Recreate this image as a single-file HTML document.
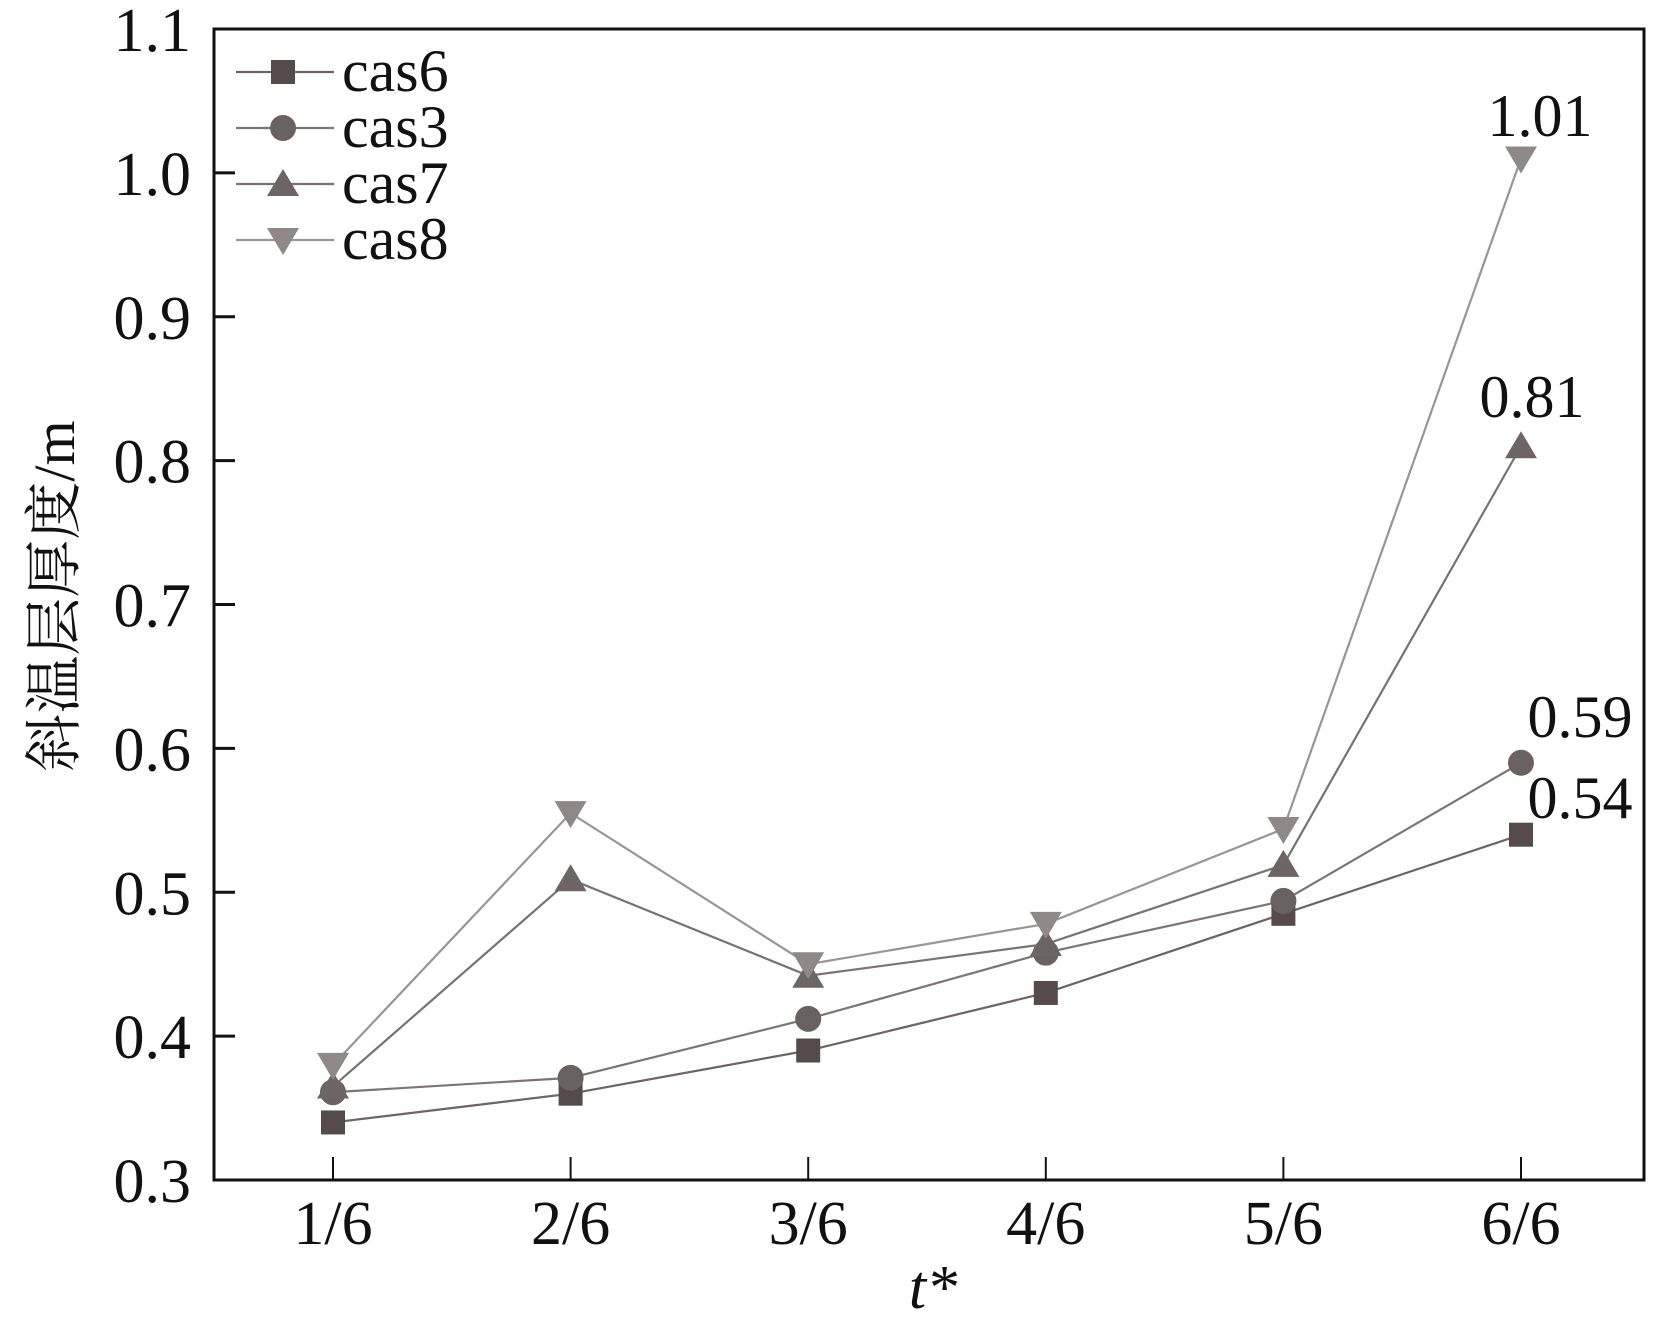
<!DOCTYPE html>
<html><head><meta charset="utf-8"><style>
html,body{margin:0;padding:0;background:#fff;}
svg{display:block;}
text{font-family:"Liberation Serif","Noto Serif CJK SC",serif;fill:#111;}
</style></head><body>
<svg id="chart" width="1654" height="1319" viewBox="0 0 1654 1319"></svg>
<script>
const categories = ["1/6","2/6","3/6","4/6","5/6","6/6"];
const yTicks = [0.3,0.4,0.5,0.6,0.7,0.8,0.9,1.0,1.1];
const cas6 = [0.34,0.36,0.39,0.43,0.485,0.54];
const cas3 = [0.361,0.371,0.412,0.458,0.494,0.59];
const cas7 = [0.365,0.509,0.442,0.464,0.519,0.81];
const cas8 = [0.38,0.555,0.45,0.478,0.544,1.01];
const endLabels = ["0.54","0.59","0.81","1.01"];

const NS="http://www.w3.org/2000/svg";
const svg=document.getElementById('chart');
const L=214,T=29,R=1644,B=1180;
const yMin=0.3,yMax=1.1;
function xPos(i){return 333+i*237.6;}
function yPos(v){return B-(v-yMin)/(yMax-yMin)*(B-T);}
function mk(tag,attrs,parent){const e=document.createElementNS(NS,tag);for(const k in attrs)e.setAttribute(k,attrs[k]);(parent||svg).appendChild(e);return e;}

const frame=mk('rect',{x:L,y:T,width:R-L,height:B-T,fill:'none',stroke:'#111','stroke-width':3});



yTicks.forEach((v,i)=>{
  const y=yPos(v);
  if(i>0&&i<yTicks.length-1){
    const t=mk('line',{x1:L,y1:y,x2:L+21,y2:y,stroke:'#111','stroke-width':3});
    
    
  }
  const lb=mk('text',{x:191,y:y+22,'text-anchor':'end','font-size':62});
  lb.textContent=v.toFixed(1);
  
  
});
categories.forEach((c,i)=>{
  const x=xPos(i);
  const t=mk('line',{x1:x,y1:B,x2:x,y2:B-23,stroke:'#111','stroke-width':2});
  
  
  const lb=mk('text',{x:x,y:1244,'text-anchor':'middle','font-size':62});
  lb.textContent=c;
  
  
});
const xt=mk('text',{x:933,y:1308,'text-anchor':'middle','font-size':62,'font-style':'italic'});
xt.textContent='t*';


const yt=mk('text',{x:0,y:0,'text-anchor':'middle','font-size':58,transform:'translate(74,596) rotate(-90)'});
yt.textContent='斜温层厚度/m';



function marker(type,cx,cy,fill,g){
  let e;
  if(type==='sq') e=mk('rect',{x:cx-12,y:cy-12,width:24,height:24,fill:fill},g);
  else if(type==='ci') e=mk('circle',{cx:cx,cy:cy,r:13,fill:fill},g);
  else if(type==='up') e=mk('polygon',{points:`${cx},${cy-15} ${cx+16},${cy+12} ${cx-16},${cy+12}`,fill:fill},g);
  else e=mk('polygon',{points:`${cx},${cy+15} ${cx+16},${cy-12} ${cx-16},${cy-12}`,fill:fill},g);
  return e;
}
const series=[
  {name:'cas6',data:cas6,type:'sq',fill:'#564b4b',line:'#6e6464'},
  {name:'cas3',data:cas3,type:'ci',fill:'#6a6161',line:'#7d7575'},
  {name:'cas7',data:cas7,type:'up',fill:'#6d6565',line:'#7a7272'},
  {name:'cas8',data:cas8,type:'dn',fill:'#8e8888',line:'#9a9494'}
];
series.forEach((s,si)=>{
  const g=mk('g',{});
  
  
  const pts=s.data.map((v,i)=>xPos(i)+','+yPos(v)).join(' ');
  const pl=mk('polyline',{points:pts,fill:'none',stroke:s.line,'stroke-width':2.2},g);
  
  
  s.data.forEach((v,i)=>{
    const m=marker(s.type,xPos(i),yPos(v),s.fill,g);
    
    
  });
  const ly=72+si*56;
  const lg=mk('g',{});
  
  
  mk('line',{x1:236,y1:ly,x2:334,y2:ly,stroke:s.line,'stroke-width':2.2},lg);
  marker(s.type,283,ly,s.fill,lg);
  const lt=mk('text',{x:342,y:ly+19,'font-size':60},lg);
  lt.textContent=s.name;
});
const lbPos=[[1580,818,0],[1580,737,1],[1532,417,2],[1540,136,3]];
lbPos.forEach(p=>{
  const t=mk('text',{x:p[0],y:p[1],'text-anchor':'middle','font-size':60});
  t.textContent=endLabels[p[2]];
  
  
});
</script>
</body></html>
